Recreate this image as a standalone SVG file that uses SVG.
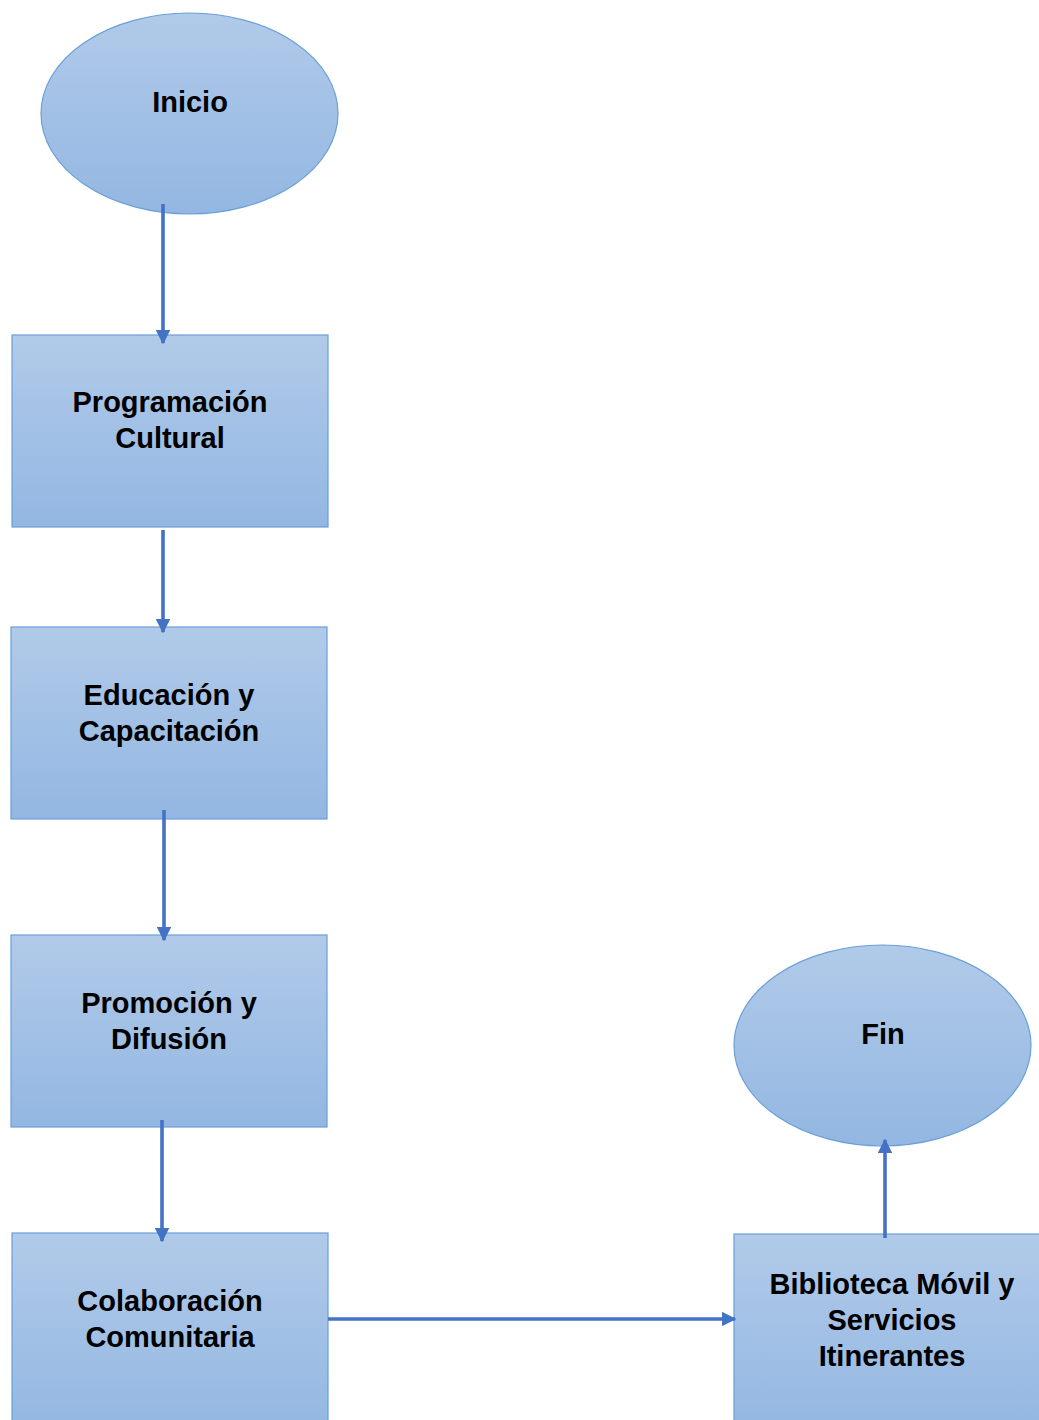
<svg xmlns="http://www.w3.org/2000/svg" width="1039" height="1420" viewBox="0 0 1039 1420">
  <defs>
    <linearGradient id="fill" x1="0" y1="0" x2="0" y2="1">
      <stop offset="0" stop-color="#b1cae9"/>
      <stop offset="1" stop-color="#93b7e2"/>
    </linearGradient>
    <marker id="arrow" viewBox="0 0 10 10" refX="9" refY="5" markerWidth="4" markerHeight="4" markerUnits="strokeWidth" orient="auto">
      <path d="M0,0 L10,5 L0,10 z" fill="#4472c4"/>
    </marker>
  </defs>
  <style>
    .shape { fill: url(#fill); stroke: #6a9fd8; stroke-width: 1.2; }
    .label { font-family: "Liberation Sans", Arial, sans-serif; font-weight: bold; font-size: 29px; fill: #000; text-anchor: middle; }
    .link { stroke: #4472c4; stroke-width: 3.6; fill: none; marker-end: url(#arrow); }
  </style>
  <rect width="1039" height="1420" fill="#fff"/>

  <g id="inicio">
    <ellipse class="shape" cx="189.5" cy="113.5" rx="148.5" ry="100.5"/>
    <text class="label" x="190" y="112">Inicio</text>
  </g>

  <g id="programacion">
    <rect class="shape" x="12" y="335" width="316" height="192"/>
    <text class="label" x="170" y="412">Programación</text>
    <text class="label" x="170" y="448">Cultural</text>
  </g>

  <g id="educacion">
    <rect class="shape" x="11" y="627" width="316" height="192"/>
    <text class="label" x="169" y="705">Educación y</text>
    <text class="label" x="169" y="741">Capacitación</text>
  </g>

  <g id="promocion">
    <rect class="shape" x="11" y="935" width="316" height="192"/>
    <text class="label" x="169" y="1013">Promoción y</text>
    <text class="label" x="169" y="1049">Difusión</text>
  </g>

  <g id="colaboracion">
    <rect class="shape" x="12" y="1233" width="316" height="200"/>
    <text class="label" x="170" y="1311">Colaboración</text>
    <text class="label" x="170" y="1347">Comunitaria</text>
  </g>

  <g id="biblioteca">
    <rect class="shape" x="734" y="1234" width="316" height="200"/>
    <text class="label" x="892" y="1294">Biblioteca Móvil y</text>
    <text class="label" x="892" y="1330">Servicios</text>
    <text class="label" x="892" y="1366">Itinerantes</text>
  </g>

  <g id="fin">
    <ellipse class="shape" cx="882.5" cy="1045.5" rx="148.5" ry="100.5"/>
    <text class="label" x="883" y="1044">Fin</text>
  </g>

  <g id="connectors">
    <line class="link" x1="163" y1="204" x2="163" y2="343"/>
    <line class="link" x1="163" y1="530" x2="163" y2="632"/>
    <line class="link" x1="164" y1="810" x2="164" y2="940"/>
    <line class="link" x1="162" y1="1120" x2="162" y2="1241"/>
    <line class="link" x1="328" y1="1319" x2="735" y2="1319"/>
    <line class="link" x1="885" y1="1238" x2="885" y2="1140"/>
  </g>
</svg>
